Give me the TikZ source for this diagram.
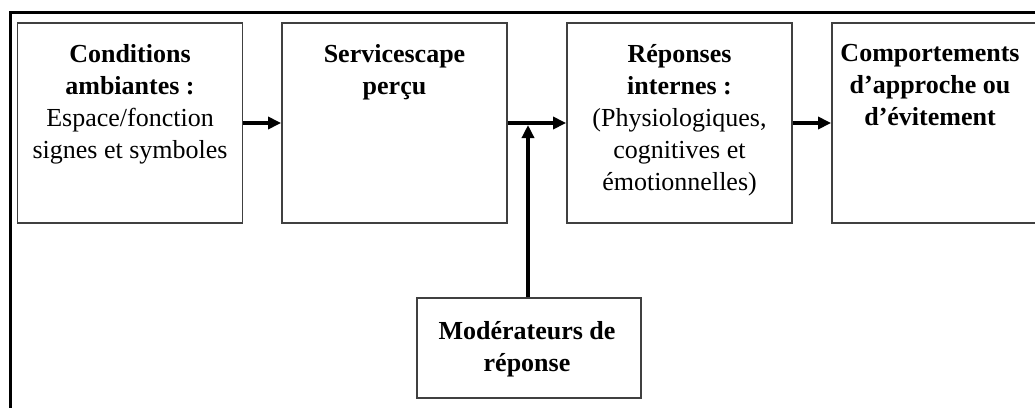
\documentclass[tikz,border=0pt]{standalone}
\usepackage{fontspec}
\setmainfont{Liberation Serif}
\usetikzlibrary{arrows.meta}
\begin{document}
\begin{tikzpicture}[x=1pt,y=1pt,
  boxnode/.style={draw=black!75,line width=1.8pt,rectangle,inner sep=0pt,minimum width=225pt,minimum height=200pt},
  modnode/.style={draw=black!75,line width=1.8pt,rectangle,inner sep=0pt,minimum width=224pt,minimum height=100pt},
  txt/.style={align=center,inner sep=0pt,font=\fontsize{26}{32}\selectfont},
  conn/.style={line width=3.4pt,-{Triangle[length=13pt,width=12pt]}},
  frame/.style={line width=3pt,black}]
\useasboundingbox (0,0) rectangle (1035,-407);
\clip (0,0) rectangle (1035,-407);
\fill[white] (0,0) rectangle (1035,-407);
\draw[frame] (10,-410) -- (10,-12) -- (1040,-12);
\node[boxnode] (b1) at (130,-123) {};
\node[boxnode] (b2) at (394.5,-123) {};
\node[boxnode] (b3) at (679.5,-123) {};
\node[boxnode] (b4) at (944.5,-123) {};
\node[modnode] (m) at (529,-348) {};
\node[txt,anchor=north] (t1) at (130,-44) {\textbf{Conditions}\\\textbf{ambiantes :}\\Espace/fonction\\signes et symboles};
\node[txt,anchor=north] (t2) at (394.5,-44) {\textbf{Servicescape}\\\textbf{perçu}};
\node[txt,anchor=north] (t3) at (679.5,-44) {\textbf{Réponses}\\\textbf{internes :}\\(Physiologiques,\\cognitives  et\\émotionnelles)};
\node[txt,anchor=north] (t4) at (930,-44) {\textbf{Comportements}\\\textbf{d’approche ou}\\\textbf{d’évitement}};
\node[txt,anchor=north] (tm) at (527,-321) {\textbf{Modérateurs de}\\\textbf{réponse}};
\coordinate (j) at (528,-123);
\draw[conn] (b1) -- (b2);
\draw[conn] (b2) -- (b3);
\draw[conn] (b3) -- (b4);
\draw[conn] (m.north -| j) -- ([yshift=-2pt]j);
\end{tikzpicture}
\end{document}
